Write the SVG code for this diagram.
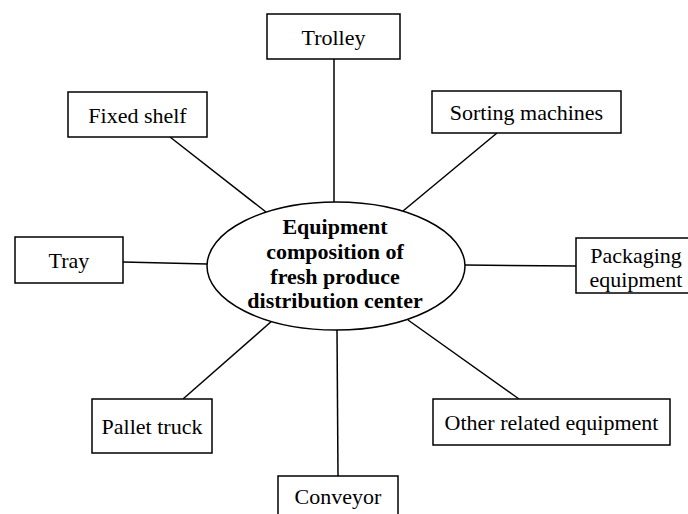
<svg xmlns="http://www.w3.org/2000/svg" width="688" height="514" viewBox="0 0 688 514">
<style>
.box{fill:#fff;stroke:#000;stroke-width:1.5}
.lbl{font-family:"Liberation Serif","Times New Roman",serif;font-size:22px;fill:#000;text-anchor:middle}
.ctr{font-family:"Liberation Serif","Times New Roman",serif;font-size:22px;font-weight:bold;fill:#000;text-anchor:middle}
.con{stroke:#000;stroke-width:1.5;fill:none}
</style>
<rect width="688" height="514" fill="#fff"/>
<g id="connectors">
<line class="con" x1="334" y1="59" x2="334" y2="202"/>
<line class="con" x1="170" y1="137" x2="266" y2="212"/>
<line class="con" x1="497" y1="133" x2="403" y2="211"/>
<line class="con" x1="123" y1="262" x2="207" y2="264"/>
<line class="con" x1="465" y1="265" x2="576" y2="266"/>
<line class="con" x1="183" y1="399" x2="273" y2="320"/>
<line class="con" x1="519" y1="399" x2="408" y2="320"/>
<line class="con" x1="338" y1="476" x2="337" y2="330"/>
</g>
<g id="center">
<ellipse class="box" cx="336" cy="266" rx="129" ry="64"/>
<text class="ctr" x="335" y="234">Equipment</text>
<text class="ctr" x="335" y="259">composition of</text>
<text class="ctr" x="335" y="284">fresh produce</text>
<text class="ctr" x="335" y="308">distribution center</text>
</g>
<g id="trolley"><rect class="box" x="267" y="14" width="133" height="45"/><text class="lbl" x="333.5" y="45">Trolley</text></g>
<g id="fixed-shelf"><rect class="box" x="68" y="92" width="139" height="45"/><text class="lbl" x="137.5" y="123">Fixed shelf</text></g>
<g id="sorting"><rect class="box" x="432" y="91" width="189" height="42"/><text class="lbl" x="526.5" y="120">Sorting machines</text></g>
<g id="tray"><rect class="box" x="15" y="237" width="108" height="46"/><text class="lbl" x="69" y="268">Tray</text></g>
<g id="packaging"><rect class="box" x="576" y="238" width="114" height="55"/><text class="lbl" x="636" y="263">Packaging</text><text class="lbl" x="636" y="287">equipment</text></g>
<g id="pallet-truck"><rect class="box" x="92" y="399" width="120" height="54"/><text class="lbl" x="152" y="434">Pallet truck</text></g>
<g id="other"><rect class="box" x="433" y="399" width="237" height="46"/><text class="lbl" x="551.5" y="430">Other related equipment</text></g>
<g id="conveyor"><rect class="box" x="278" y="476" width="120" height="45"/><text class="lbl" x="338" y="504">Conveyor</text></g>
</svg>
